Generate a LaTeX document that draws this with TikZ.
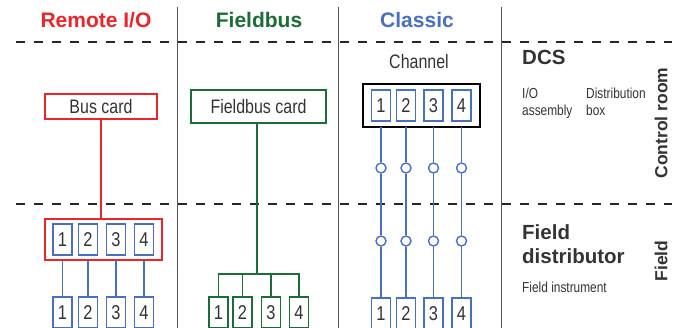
\documentclass[tikz,border=0pt]{standalone}
\usepackage{fontspec}
\setmainfont{Liberation Sans}
\newfontfamily\cond[FakeStretch=0.82]{Liberation Sans}
\definecolor{rred}{HTML}{E8262B}
\definecolor{fgreen}{HTML}{1E6B3A}
\definecolor{cblue}{HTML}{4A6FBF}
\definecolor{tgray}{HTML}{333333}
\definecolor{sepgray}{HTML}{555555}
\tikzset{
  title/.style={font=\bfseries\fontsize{21}{21}\selectfont, inner sep=0pt},
  lbl/.style={font=\cond\fontsize{19.5}{19.5}\selectfont, text=tgray, inner sep=0pt},
  small/.style={font=\cond\fontsize{14.5}{17}\selectfont, text=tgray, inner sep=0pt, anchor=north west, align=left},
  big/.style={font=\bfseries\fontsize{20.5}{24}\selectfont, text=tgray, inner sep=0pt, anchor=north west, align=left},
  side/.style={font=\bfseries\fontsize{17.5}{17.5}\selectfont, text=tgray, inner sep=0pt, rotate=90},
  numbox/.style={draw=#1, line width=1.4pt, minimum width=19pt, minimum height=31pt, inner sep=0pt, font=\cond\fontsize{20}{20}\selectfont, text=tgray},
  card/.style={draw=#1, line width=1.3pt, inner sep=0pt, font=\cond\fontsize{19.5}{19.5}\selectfont, text=tgray},
  wire/.style={draw=#1, line width=1.4pt},
  sep/.style={draw=sepgray, line width=0.9pt},
  dsh/.style={draw=black!85, line width=1.4pt, dash pattern=on 9pt off 9pt},
  ring/.style={circle, draw=cblue, fill=white, line width=1.4pt, minimum size=10pt, inner sep=0pt},
}
\begin{document}
\begin{tikzpicture}[x=1pt,y=-1pt]
\useasboundingbox (0,0) rectangle (677,328);
\clip (0,0) rectangle (677,328);
% separators
\coordinate (s1t) at (177,7); \coordinate (s1b) at (177,330);
\coordinate (s2t) at (338,7); \coordinate (s2b) at (338,330);
\coordinate (s3t) at (501,7); \coordinate (s3b) at (501,330);
\draw[sep] (s1t) -- (s1b);
\draw[sep] (s2t) -- (s2b);
\draw[sep] (s3t) -- (s3b);
\coordinate (d1l) at (16,42); \coordinate (d1r) at (672,42);
\coordinate (d2l) at (16,204); \coordinate (d2r) at (672,204);
\draw[dsh] (d1l) -- (d1r);
\draw[dsh] (d2l) -- (d2r);
% titles
\node[title, text=rred] (t1) at (96,20) {Remote I/O};
\node[title, text=fgreen] (t2) at (259,20) {Fieldbus};
\node[title, text=cblue] (t3) at (417,20) {Classic};

% Remote I/O
\node[card=rred, minimum width=112pt, minimum height=25pt] (bus) at (101,106.5) {Bus card};
\node[draw=rred, line width=1.4pt, minimum width=117pt, minimum height=41pt, inner sep=0pt] (rio) at (103.5,239.5) {};
\foreach \i/\x in {1/62.5,2/88,3/116,4/144}{
  \node[numbox=cblue] (ra\i) at (\x,239.5) {\i};
  \node[numbox=cblue] (rb\i) at (\x,312.5) {\i};
  \draw[wire=cblue] (\x,260) -- (rb\i.north);
}
\draw[wire=rred] (bus.south -| 101,0) -- (rio.north -| 101,0);

% Fieldbus
\node[card=fgreen, minimum width=135pt, minimum height=33pt] (fbc) at (258.5,106.5) {Fieldbus card};
\coordinate (fj) at (257,274);
\draw[wire=fgreen] (fbc.south -| fj) -- (fj);
\foreach \i/\x in {1/218.5,2/242.5,3/271,4/299}{
  \node[numbox=fgreen] (fb\i) at (\x,312.5) {\i};
}
\draw[wire=fgreen] (fb1.north) |- (fj) -| (fb4.north);
\draw[wire=fgreen] (fb2.north) -- (fb2.north |- fj);
\draw[wire=fgreen] (fb3.north) -- (fb3.north |- fj);

% Classic
\node[lbl] (chl) at (419,62) {Channel};
\node[draw=black, line width=1.4pt, minimum width=117pt, minimum height=43pt, inner sep=0pt] (ch) at (421.5,105.5) {};
\foreach \i/\x in {1/381,2/406,3/433.5,4/461.5}{
  \node[numbox=cblue] (ca\i) at (\x,105.5) {\i};
  \node[ring] (cu\i) at (\x,168) {};
  \node[ring] (cd\i) at (\x,241) {};
  \node[numbox=cblue] (cb\i) at (\x,313.5) {\i};
  \draw[wire=cblue] (\x,127) -- (cu\i);
  \draw[wire=cblue] (cu\i) -- (cd\i);
  \draw[wire=cblue] (cd\i) -- (cb\i);
}

% right column
\node[big] (dcs) at (522,50) {DCS};
\node[small] (ioa) at (522,88) {I/O\\assembly};
\node[small] (dbx) at (586,88) {Distribution\\box};
\node[big] (fd) at (522,224) {Field\\distributor};
\node[small] (fi) at (522,282) {Field instrument};
\node[side] (cr) at (661,123) {Control room};
\node[side] (fl) at (661,261) {Field};
\end{tikzpicture}
\end{document}
